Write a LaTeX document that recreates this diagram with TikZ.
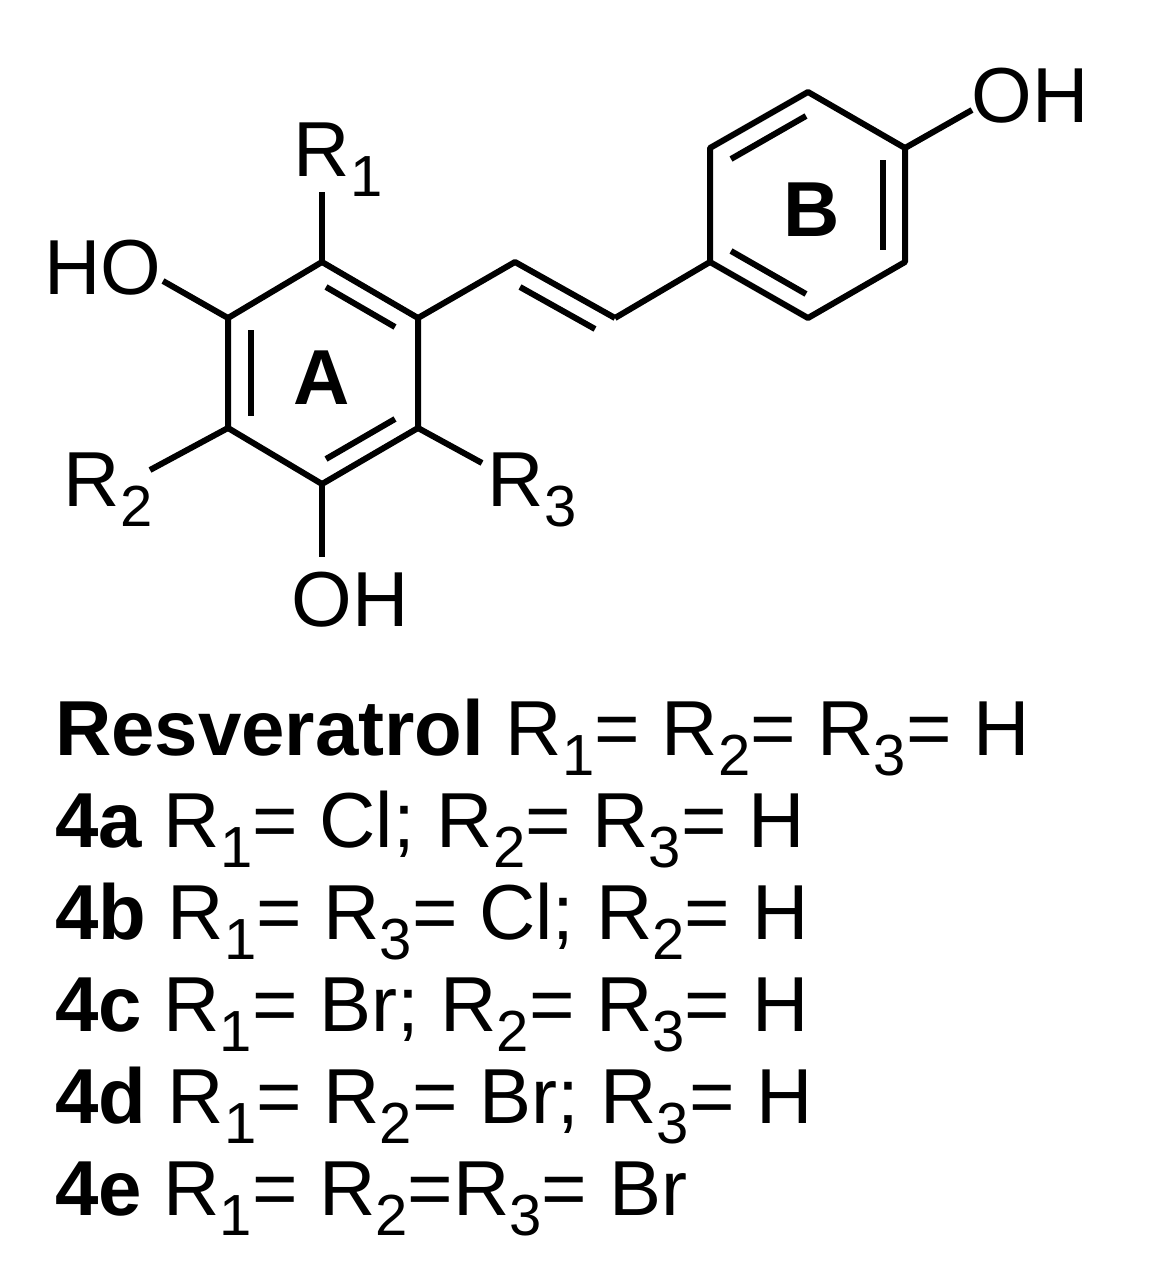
\documentclass[tikz,border=0pt]{standalone}
\usepackage{fontspec}
\setmainfont{Liberation Sans}
\newcommand\subx[1]{\raisebox{-0.26em}{\fontsize{58}{58}\selectfont #1}}
\begin{document}
\begin{tikzpicture}[x=1pt,y=-1pt,line width=6pt,
 lbl/.style={font=\fontsize{78}{78}\selectfont,inner sep=0pt},
 txt/.style={font=\fontsize{78}{78}\selectfont,anchor=base west,inner sep=0pt}]
\useasboundingbox (0,0) rectangle (1152,1279);
% ring A
\coordinate (a1) at (322,262); \coordinate (a2) at (418,318);
\coordinate (a3) at (418,428); \coordinate (a4) at (322,484);
\coordinate (a5) at (228,428); \coordinate (a6) at (228,318);
\draw[line join=round] (a1)--(a2)--(a3)--(a4)--(a5)--(a6)--cycle;
\draw (326,287)--(395,327);
\draw (251,330)--(251,416);
\draw (326,459)--(395,419);
% substituents
\node[lbl] (r1) at (338,160) {R\subx{1}};
\draw (a1)--(322,192);
\node[lbl] (ho) at (103,268) {HO};
\draw (a6)--(163,281);
\node[lbl] (r2) at (108,490) {R\subx{2}};
\draw (a5)--(150,470);
\node[lbl] (oh1) at (350,600) {OH};
\draw (a4)--(322,557);
\node[lbl] (r3) at (532,490) {R\subx{3}};
\draw (a3)--(482,463);
% vinyl
\coordinate (v1) at (515,262); \coordinate (v2) at (615,318);
\draw[line join=round] (a2)--(v1)--(v2);
\draw (520,287)--(595,329);
% ring B
\coordinate (b1) at (710,262); \coordinate (b2) at (710,148);
\coordinate (b3) at (808,92); \coordinate (b4) at (905,148);
\coordinate (b5) at (905,262); \coordinate (b6) at (808,318);
\draw (v2)--(b1);
\draw[line join=round] (b1)--(b2)--(b3)--(b4)--(b5)--(b6)--cycle;
\draw (731,159)--(806,116);
\draw (883,160)--(883,250);
\draw (731,251)--(806,294);
\node[lbl] (oh2) at (1030,96) {OH};
\draw (b4)--(972,110);
\node[lbl,font=\fontsize{78}{78}\selectfont\bfseries] (A) at (322,378) {A};
\node[lbl,font=\fontsize{78}{78}\selectfont\bfseries] (B) at (812,210) {B};
% text
\node[txt] (t0) at (52,755) {\textbf{Resveratrol} R\subx{1}= R\subx{2}= R\subx{3}= H};
\node[txt] (t1) at (52,847) {\textbf{4a} R\subx{1}= Cl; R\subx{2}= R\subx{3}= H};
\node[txt] (t2) at (52,939) {\textbf{4b} R\subx{1}= R\subx{3}= Cl; R\subx{2}= H};
\node[txt] (t3) at (52,1031) {\textbf{4c} R\subx{1}= Br; R\subx{2}= R\subx{3}= H};
\node[txt] (t4) at (52,1123) {\textbf{4d} R\subx{1}= R\subx{2}= Br; R\subx{3}= H};
\node[txt] (t5) at (52,1215) {\textbf{4e} R\subx{1}= R\subx{2}=R\subx{3}= Br};
\end{tikzpicture}
\end{document}
